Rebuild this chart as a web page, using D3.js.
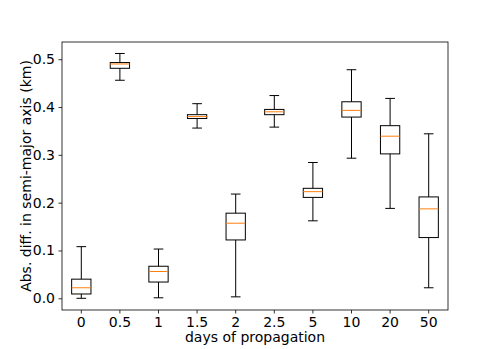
<!DOCTYPE html>
<html>
<head>
<meta charset="utf-8">
<script src="https://cdn.jsdelivr.net/npm/d3@7"></script>
<style>
  body { margin: 0; background: #fff; }
  svg text { font-family: "DejaVu Sans", sans-serif; fill: #000; }
</style>
</head>
<body>
<div id="chart"></div>
<script>
// days of propagation
var days = ["0", "0.5", "1", "1.5", "2", "2.5", "5", "10", "20", "50"];
// box stats (km)
var whiskLow  = [0.000, 0.456, 0.001, 0.356, 0.003, 0.358, 0.162, 0.293, 0.188, 0.022];
var q1        = [0.009, 0.481, 0.034, 0.376, 0.122, 0.384, 0.211, 0.379, 0.302, 0.127];
var medians   = [0.022, 0.490, 0.056, 0.380, 0.157, 0.390, 0.223, 0.393, 0.339, 0.187];
var q3        = [0.040, 0.493, 0.067, 0.384, 0.178, 0.395, 0.230, 0.411, 0.361, 0.212];
var whiskHigh = [0.108, 0.512, 0.103, 0.407, 0.218, 0.424, 0.284, 0.478, 0.418, 0.344];
var yTicks = [0.0, 0.1, 0.2, 0.3, 0.4, 0.5];

var W = 498, H = 349;
var margin = {top: 42, right: 50, bottom: 39, left: 62},
    width = W - margin.left - margin.right,
    height = H - margin.top - margin.bottom;

var boxes = days.map(function(d, i) {
  return {day: d, lo: whiskLow[i], q1: q1[i], med: medians[i], q3: q3[i], hi: whiskHigh[i]};
});

var x = d3.scaleBand()
  .domain(days)
  .range([0, width])
  .paddingInner(0.5)
  .paddingOuter(0.25);

var y = d3.scaleLinear()
  .domain([-0.0245, 0.536])
  .range([height, 0]);

var svg = d3.select("#chart").append("svg")
    .attr("width", W)
    .attr("height", H)
  .append("g")
    .attr("transform", "translate(" + margin.left + "," + margin.top + ")");

var bw = x.bandwidth();
var capW = bw / 2;

var g = svg.selectAll(".box")
    .data(boxes)
  .enter().append("g")
    .attr("class", "box")
    .attr("transform", function(d) { return "translate(" + (x(d.day) + bw / 2) + ",0)"; });

// whiskers
g.append("line")
  .attr("x1", 0).attr("x2", 0)
  .attr("y1", function(d) { return y(d.q3); })
  .attr("y2", function(d) { return y(d.hi); })
  .attr("stroke", "#000");
g.append("line")
  .attr("x1", 0).attr("x2", 0)
  .attr("y1", function(d) { return y(d.q1); })
  .attr("y2", function(d) { return y(d.lo); })
  .attr("stroke", "#000");
// caps
g.append("line")
  .attr("x1", -capW / 2).attr("x2", capW / 2)
  .attr("y1", function(d) { return y(d.hi); })
  .attr("y2", function(d) { return y(d.hi); })
  .attr("stroke", "#000");
g.append("line")
  .attr("x1", -capW / 2).attr("x2", capW / 2)
  .attr("y1", function(d) { return y(d.lo); })
  .attr("y2", function(d) { return y(d.lo); })
  .attr("stroke", "#000");
// box
g.append("rect")
  .attr("x", -bw / 2)
  .attr("width", bw)
  .attr("y", function(d) { return y(d.q3); })
  .attr("height", function(d) { return y(d.q1) - y(d.q3); })
  .attr("fill", "none")
  .attr("stroke", "#000");
// median
g.append("line")
  .attr("x1", -bw / 2).attr("x2", bw / 2)
  .attr("y1", function(d) { return y(d.med); })
  .attr("y2", function(d) { return y(d.med); })
  .attr("stroke", "#ff7f0e");

// axes
var xAxis = d3.axisBottom(x).tickSizeOuter(0).tickSize(3.5).tickPadding(3.5);
var yAxis = d3.axisLeft(y).tickValues(yTicks).tickFormat(d3.format(".1f"))
  .tickSizeOuter(0).tickSize(3.5).tickPadding(3.5);

var gx = svg.append("g")
  .attr("transform", "translate(0," + height + ")")
  .call(xAxis);
var gy = svg.append("g").call(yAxis);

[gx, gy].forEach(function(a) {
  a.select(".domain").remove();
  a.selectAll(".tick line").attr("stroke", "#000").attr("stroke-width", 0.8);
  a.selectAll(".tick text").style("font-size", "14px").style("font-family", "DejaVu Sans");
});

// frame
svg.append("rect")
  .attr("width", width)
  .attr("height", height)
  .attr("fill", "none")
  .attr("stroke", "#000")
  .attr("stroke-width", 0.8);

svg.append("text")
  .attr("x", width / 2)
  .attr("y", height + 32)
  .attr("text-anchor", "middle")
  .style("font-size", "14px")
  .text("days of propagation");

svg.append("text")
  .attr("transform", "translate(" + (-31) + "," + (height / 2) + ") rotate(-90)")
  .attr("text-anchor", "middle")
  .style("font-size", "14px")
  .text("Abs. diff. in semi-major axis (km)");
</script>
</body>
</html>
